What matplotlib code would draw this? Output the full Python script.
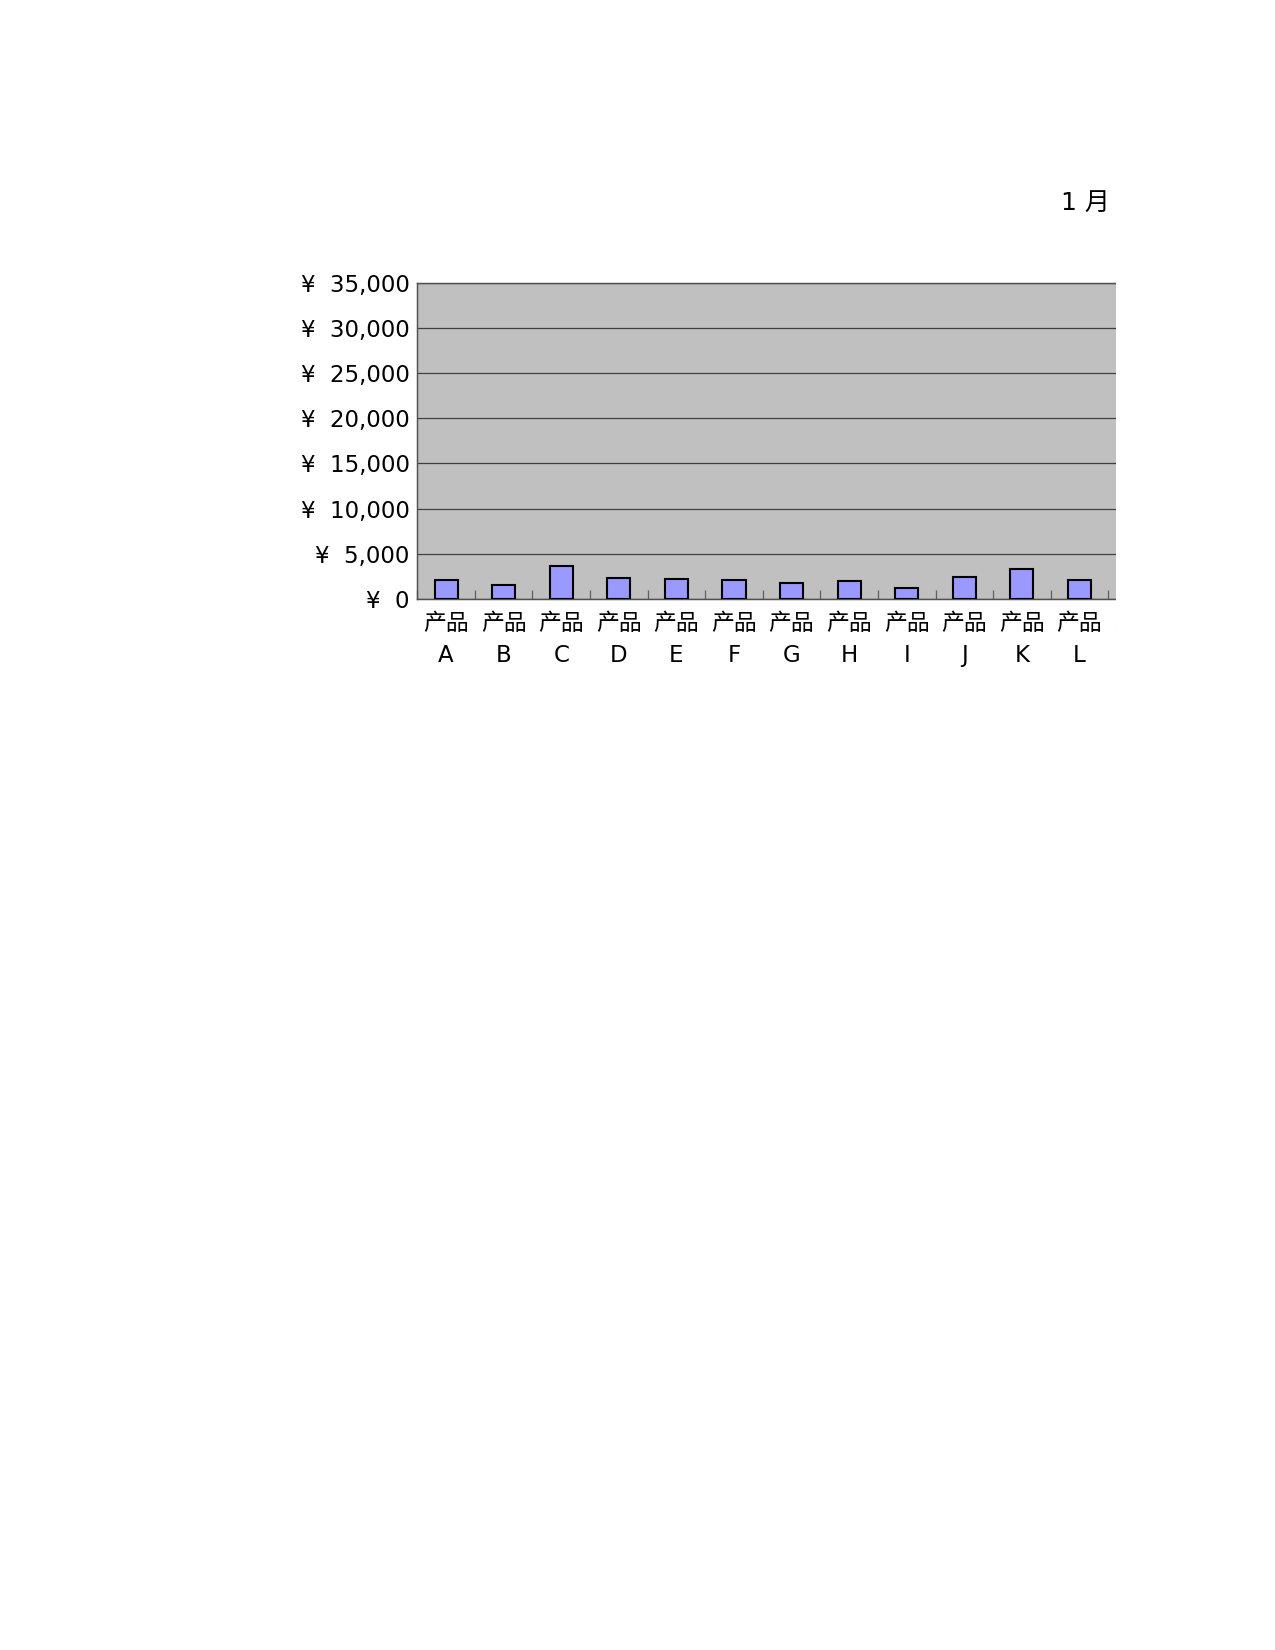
import numpy as np
import matplotlib
matplotlib.use("Agg")
import matplotlib.pyplot as plt
from matplotlib.patches import Rectangle
from matplotlib.ticker import FuncFormatter, MultipleLocator

plt.rcParams['font.family'] = ['DejaVu Sans', 'Noto Sans CJK SC']

# data (January sales per product)
products = ['A', 'B', 'C', 'D', 'E', 'F', 'G', 'H', 'I', 'J', 'K', 'L', 'M']
sales = [2100, 1550, 3600, 2300, 2200, 2050, 1750, 1950, 1150, 2450, 3250, 2100]
title = '1 月'
y_max = 35000
y_step = 5000

fig = plt.figure(figsize=(8.5, 11), dpi=150)
ax = fig.add_axes([0.3273, 0.6372, 0.5871, 0.1911])

ax.set_facecolor('#C0C0C0')
x = np.arange(len(sales))
ax.bar(x, sales, width=0.4, color='#9999FF', edgecolor='black',
       linewidth=1.0, zorder=3)

ax.set_xlim(-0.5, len(products) - 0.5)
ax.set_ylim(0, y_max)
ax.yaxis.set_major_locator(MultipleLocator(y_step))
ax.yaxis.set_major_formatter(FuncFormatter(lambda v, p: f'¥  {int(v):,}'))
ax.grid(axis='y', color='#404040', linewidth=0.6, zorder=1)
ax.set_axisbelow(True)

# category labels sit centred, boundary ticks point inward
ax.set_xticks(np.arange(len(products)))
ax.set_xticklabels([f'产品\n{p}' for p in products], linespacing=1.5)
ax.set_xticks(np.arange(len(products) + 1) - 0.5, minor=True)
ax.tick_params(axis='x', which='major', length=0, pad=6.5, labelsize=11)
ax.tick_params(axis='x', which='minor', direction='in', length=4.3,
               color='#606060', width=0.6)
ax.tick_params(axis='y', length=0, pad=3.7, labelsize=11)

for s in ax.spines.values():
    s.set_color('#505050')
    s.set_linewidth(0.7)

fig.text(1110 / 1275, 1 - 203 / 1650, title, fontsize=12,
         ha='right', va='center')

# the original chart is cut off on the right
fig.add_artist(Rectangle((1116 / 1275, 0), 1, 1, transform=fig.transFigure,
                         facecolor='white', edgecolor='none', zorder=10))

fig.savefig('out.png', dpi=150, facecolor='white')
